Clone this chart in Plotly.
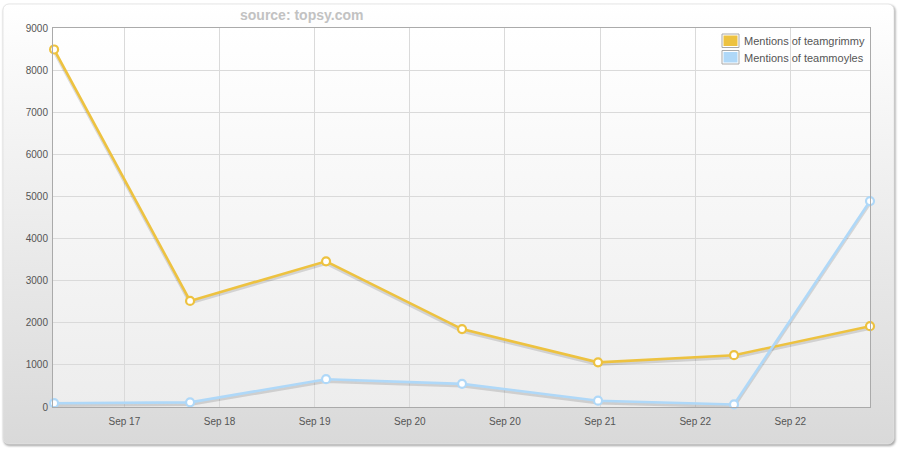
import base64
import plotly.graph_objects as go

# ---- data ----
x_index = [0, 1, 2, 3, 4, 5, 6]
grimmy = [8490, 2520, 3460, 1850, 1060, 1230, 1920]
moyles = [90, 110, 660, 550, 150, 60, 4890]
tick_vals = [0.517, 1.217, 1.916, 2.616, 3.315, 4.015, 4.715, 5.414]
tick_text = ["Sep 17", "Sep 18", "Sep 19", "Sep 20", "Sep 20", "Sep 21", "Sep 22", "Sep 22"]
series_names = ["Mentions of teamgrimmy", "Mentions of teammoyles"]

W, H = 900, 451
L, R, T, B = 53, 30, 28, 44
pw, ph = W - L - R, H - T - B
Y_MAX = 9000

def px(xp):
    return (xp - L) / pw

def py(yp):
    return (H - B - yp) / ph

svg = f"""<svg xmlns='http://www.w3.org/2000/svg' width='{W}' height='{H}' viewBox='0 0 {W} {H}'>
<defs>
<linearGradient id='p' x1='0' y1='0' x2='0' y2='1'><stop offset='0' stop-color='#ffffff'/><stop offset='1' stop-color='#d9d9d9'/></linearGradient>
<linearGradient id='a' x1='0' y1='0' x2='0' y2='1'><stop offset='0' stop-color='#ffffff'/><stop offset='1' stop-color='#ededed'/></linearGradient>
<filter id='s' x='-5%' y='-5%' width='110%' height='110%'><feGaussianBlur stdDeviation='1.2'/></filter>
</defs>
<rect x='3.5' y='5' width='892' height='441' rx='6' fill='#888888' opacity='0.75' filter='url(#s)'/>
<rect x='3' y='4' width='891' height='440' rx='6' fill='url(#p)' stroke='#e2e2e2' stroke-width='0.8'/>
<rect x='{L}' y='{T}' width='{pw}' height='{ph}' fill='url(#a)'/>
</svg>"""
src = "data:image/svg+xml;base64," + base64.b64encode(svg.encode()).decode()

yellow = "#EDC240"
blue = "#AFD8F8"
colors = [yellow, blue]

# shadow offset of ~2px expressed through a shifted (hidden) axis range
shift = 2.2 * Y_MAX / ph

fig = go.Figure()
for name, vals in [(series_names[0], grimmy), (series_names[1], moyles)]:
    fig.add_trace(go.Scatter(
        x=x_index, y=vals, mode="lines", name=name + " shadow", showlegend=False,
        hoverinfo="skip", yaxis="y", line=dict(color="rgba(0,0,0,0.13)", width=3),
    ))
for name, vals, col in [(series_names[0], grimmy, yellow), (series_names[1], moyles, blue)]:
    fig.add_trace(go.Scatter(
        x=x_index, y=vals, mode="lines+markers", name=name, showlegend=False, yaxis="y2",
        line=dict(color=col, width=2.6),
        marker=dict(symbol="circle", size=8, color="white", line=dict(color=col, width=2.2)),
        cliponaxis=False,
    ))

# manual legend (swatches + labels)
shapes = []
annotations = []
for i, (name, col) in enumerate(zip(series_names, colors)):
    top = 34 + i * 16.5
    shapes.append(dict(type="rect", xref="paper", yref="paper",
                       x0=px(722), x1=px(739), y0=py(top), y1=py(top + 13.5),
                       line=dict(color="#a9a9a9", width=1), fillcolor="white", layer="above"))
    shapes.append(dict(type="rect", xref="paper", yref="paper",
                       x0=px(723.5), x1=px(737.5), y0=py(top + 1.5), y1=py(top + 12),
                       line=dict(width=0), fillcolor=col, layer="above"))
    annotations.append(dict(text=name, xref="paper", yref="paper", x=px(742), y=py(top + 7),
                            xanchor="left", yanchor="middle", showarrow=False,
                            font=dict(size=11, color="#555555")))

annotations.append(dict(text="<b>source: topsy.com</b>", xref="paper", yref="paper",
                        x=px(301), y=py(15), xanchor="center", yanchor="middle",
                        showarrow=False, font=dict(size=14, color="#c2c2c2")))

fig.update_layout(
    width=W, height=H,
    margin=dict(l=L, r=R, t=T, b=B),
    paper_bgcolor="white",
    plot_bgcolor="rgba(0,0,0,0)",
    showlegend=False,
    font=dict(family="Liberation Sans, Arial, sans-serif", size=10, color="#555555"),
    images=[dict(source=src, xref="paper", yref="paper",
                 x=-L / pw, y=(H - B) / ph, sizex=W / pw, sizey=H / ph,
                 xanchor="left", yanchor="top", sizing="stretch", layer="below")],
    xaxis=dict(range=[-0.008, 6.0], tickvals=tick_vals, ticktext=tick_text,
               showgrid=True, gridcolor="#dadada", gridwidth=1, zeroline=False,
               showline=True, linecolor="#aaaaaa", mirror=True, ticks="",
               ticklabelstandoff=5, tickfont=dict(size=10, color="#555555")),
    yaxis=dict(range=[shift, Y_MAX + shift], showgrid=False, zeroline=False,
               showline=False, showticklabels=False, ticks=""),
    yaxis2=dict(range=[0, Y_MAX], dtick=1000, showgrid=True, gridcolor="#dadada",
                zeroline=False, showline=True, linecolor="#aaaaaa", mirror=True,
                overlaying="y", side="left",
                ticks="", ticklabelstandoff=2, tickfont=dict(size=10, color="#555555")),
    shapes=shapes,
    annotations=annotations,
)

fig.write_html("out.html", config={"displayModeBar": False},
               post_script="document.body.style.margin='0';")
